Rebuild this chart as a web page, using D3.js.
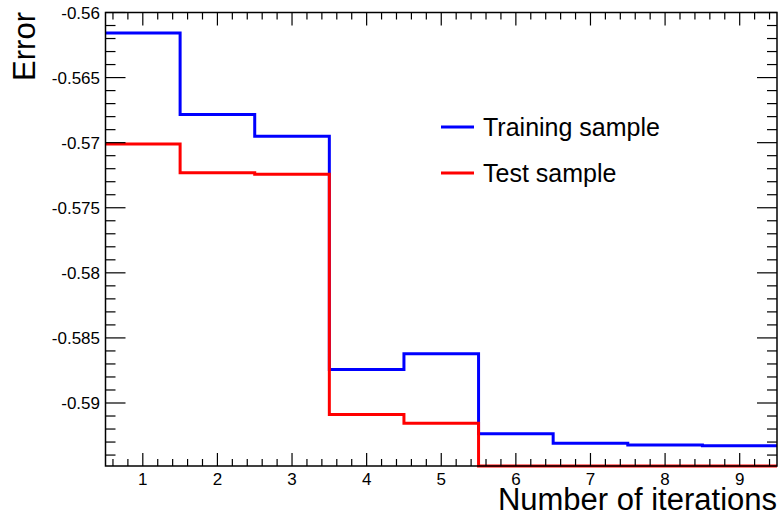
<!DOCTYPE html>
<html>
<head>
<meta charset="utf-8">
<script src="https://cdn.jsdelivr.net/npm/d3@7"></script>
<style>
  html, body { margin: 0; padding: 0; background: #fff; }
  svg { display: block; font-family: "Liberation Sans", Arial, Helvetica, sans-serif; }
</style>
</head>
<body>
<svg id="chart" width="780" height="521"></svg>
<script>
// Error per boosting iteration, one value per bin
const iterations = [1, 2, 3, 4, 5, 6, 7, 8, 9];
const trainingError = [-0.56157, -0.56783, -0.5695, -0.58742, -0.58622, -0.59237, -0.5931, -0.59323, -0.59328];
const testError = [-0.57011, -0.57232, -0.57242, -0.59088, -0.59155, -0.5956, -0.5958, -0.5959, -0.5960];
const xTicks = [1, 2, 3, 4, 5, 6, 7, 8, 9];
const yTicks = [-0.56, -0.565, -0.57, -0.575, -0.58, -0.585, -0.59];
const seriesNames = ["Training sample", "Test sample"];
const seriesColors = ["#0000ff", "#ff0000"];

const svg = d3.select("#chart");
const frameLeft = 105.5, frameRight = 777, frameTop = 12.5, frameBottom = 466;

const x = d3.scaleLinear().domain([0.5, 9.5]).range([frameLeft, frameRight]);
const y = d3.scaleLinear().domain([-0.59484, -0.56]).range([frameBottom, frameTop]).clamp(true);

// step outlines: each bin is a flat segment, joined by vertical edges
function stepPath(values) {
  const pts = [];
  values.forEach((v, i) => {
    pts.push([x(iterations[i] - 0.5), y(v)]);
    pts.push([x(iterations[i] + 0.5), y(v)]);
  });
  return d3.line()(pts);
}

const plot = svg.append("g");
[trainingError, testError].forEach((vals, i) => {
  plot.append("path")
    .attr("d", stepPath(vals))
    .attr("fill", "none")
    .attr("stroke", seriesColors[i])
    .attr("stroke-width", 3)
    .attr("stroke-linejoin", "miter");
});

// frame
svg.append("rect")
  .attr("x", frameLeft).attr("y", frameTop)
  .attr("width", frameRight - frameLeft).attr("height", frameBottom - frameTop)
  .attr("fill", "none").attr("stroke", "#000").attr("stroke-width", 1.5);

// tick marks on all four sides
const xMinor = d3.range(6, 95, 2).map(d => d / 10).filter(d => !xTicks.includes(d));
const yMinor = d3.range(560, 595).map(d => -d / 1000).filter(d => !yTicks.some(t => Math.abs(t - d) < 1e-9));

const ticks = svg.append("g").attr("stroke", "#000").attr("stroke-width", 1.2);
xTicks.forEach(t => {
  ticks.append("line").attr("x1", x(t)).attr("x2", x(t)).attr("y1", frameBottom).attr("y2", frameBottom - 13);
  ticks.append("line").attr("x1", x(t)).attr("x2", x(t)).attr("y1", frameTop).attr("y2", frameTop + 13);
});
xMinor.forEach(t => {
  ticks.append("line").attr("x1", x(t)).attr("x2", x(t)).attr("y1", frameBottom).attr("y2", frameBottom - 7);
  ticks.append("line").attr("x1", x(t)).attr("x2", x(t)).attr("y1", frameTop).attr("y2", frameTop + 7);
});
yTicks.forEach(t => {
  ticks.append("line").attr("y1", y(t)).attr("y2", y(t)).attr("x1", frameLeft).attr("x2", frameLeft + 20);
  ticks.append("line").attr("y1", y(t)).attr("y2", y(t)).attr("x1", frameRight).attr("x2", frameRight - 20);
});
yMinor.forEach(t => {
  ticks.append("line").attr("y1", y(t)).attr("y2", y(t)).attr("x1", frameLeft).attr("x2", frameLeft + 10);
  ticks.append("line").attr("y1", y(t)).attr("y2", y(t)).attr("x1", frameRight).attr("x2", frameRight - 10);
});

// tick labels
svg.append("g").selectAll("text").data(xTicks).join("text")
  .attr("x", d => x(d)).attr("y", 485)
  .attr("text-anchor", "middle").attr("font-size", 17)
  .text(d => d);
svg.append("g").selectAll("text").data(yTicks).join("text")
  .attr("x", 100).attr("y", d => y(d) + 6)
  .attr("text-anchor", "end").attr("font-size", 17)
  .text(d => String(d));

// axis titles
svg.append("text")
  .attr("x", 777).attr("y", 510)
  .attr("text-anchor", "end").attr("font-size", 31)
  .text("Number of iterations");
svg.append("text")
  .attr("transform", "translate(35,12) rotate(-90)")
  .attr("text-anchor", "end").attr("font-size", 31)
  .text("Error");

// legend
const legend = svg.append("g");
seriesNames.forEach((name, i) => {
  const ly = 127 + i * 46;
  legend.append("line")
    .attr("x1", 441).attr("x2", 474).attr("y1", ly).attr("y2", ly)
    .attr("stroke", seriesColors[i]).attr("stroke-width", 3);
  legend.append("text")
    .attr("x", 483).attr("y", ly + 8.5)
    .attr("font-size", 25)
    .text(name);
});
</script>
</body>
</html>
